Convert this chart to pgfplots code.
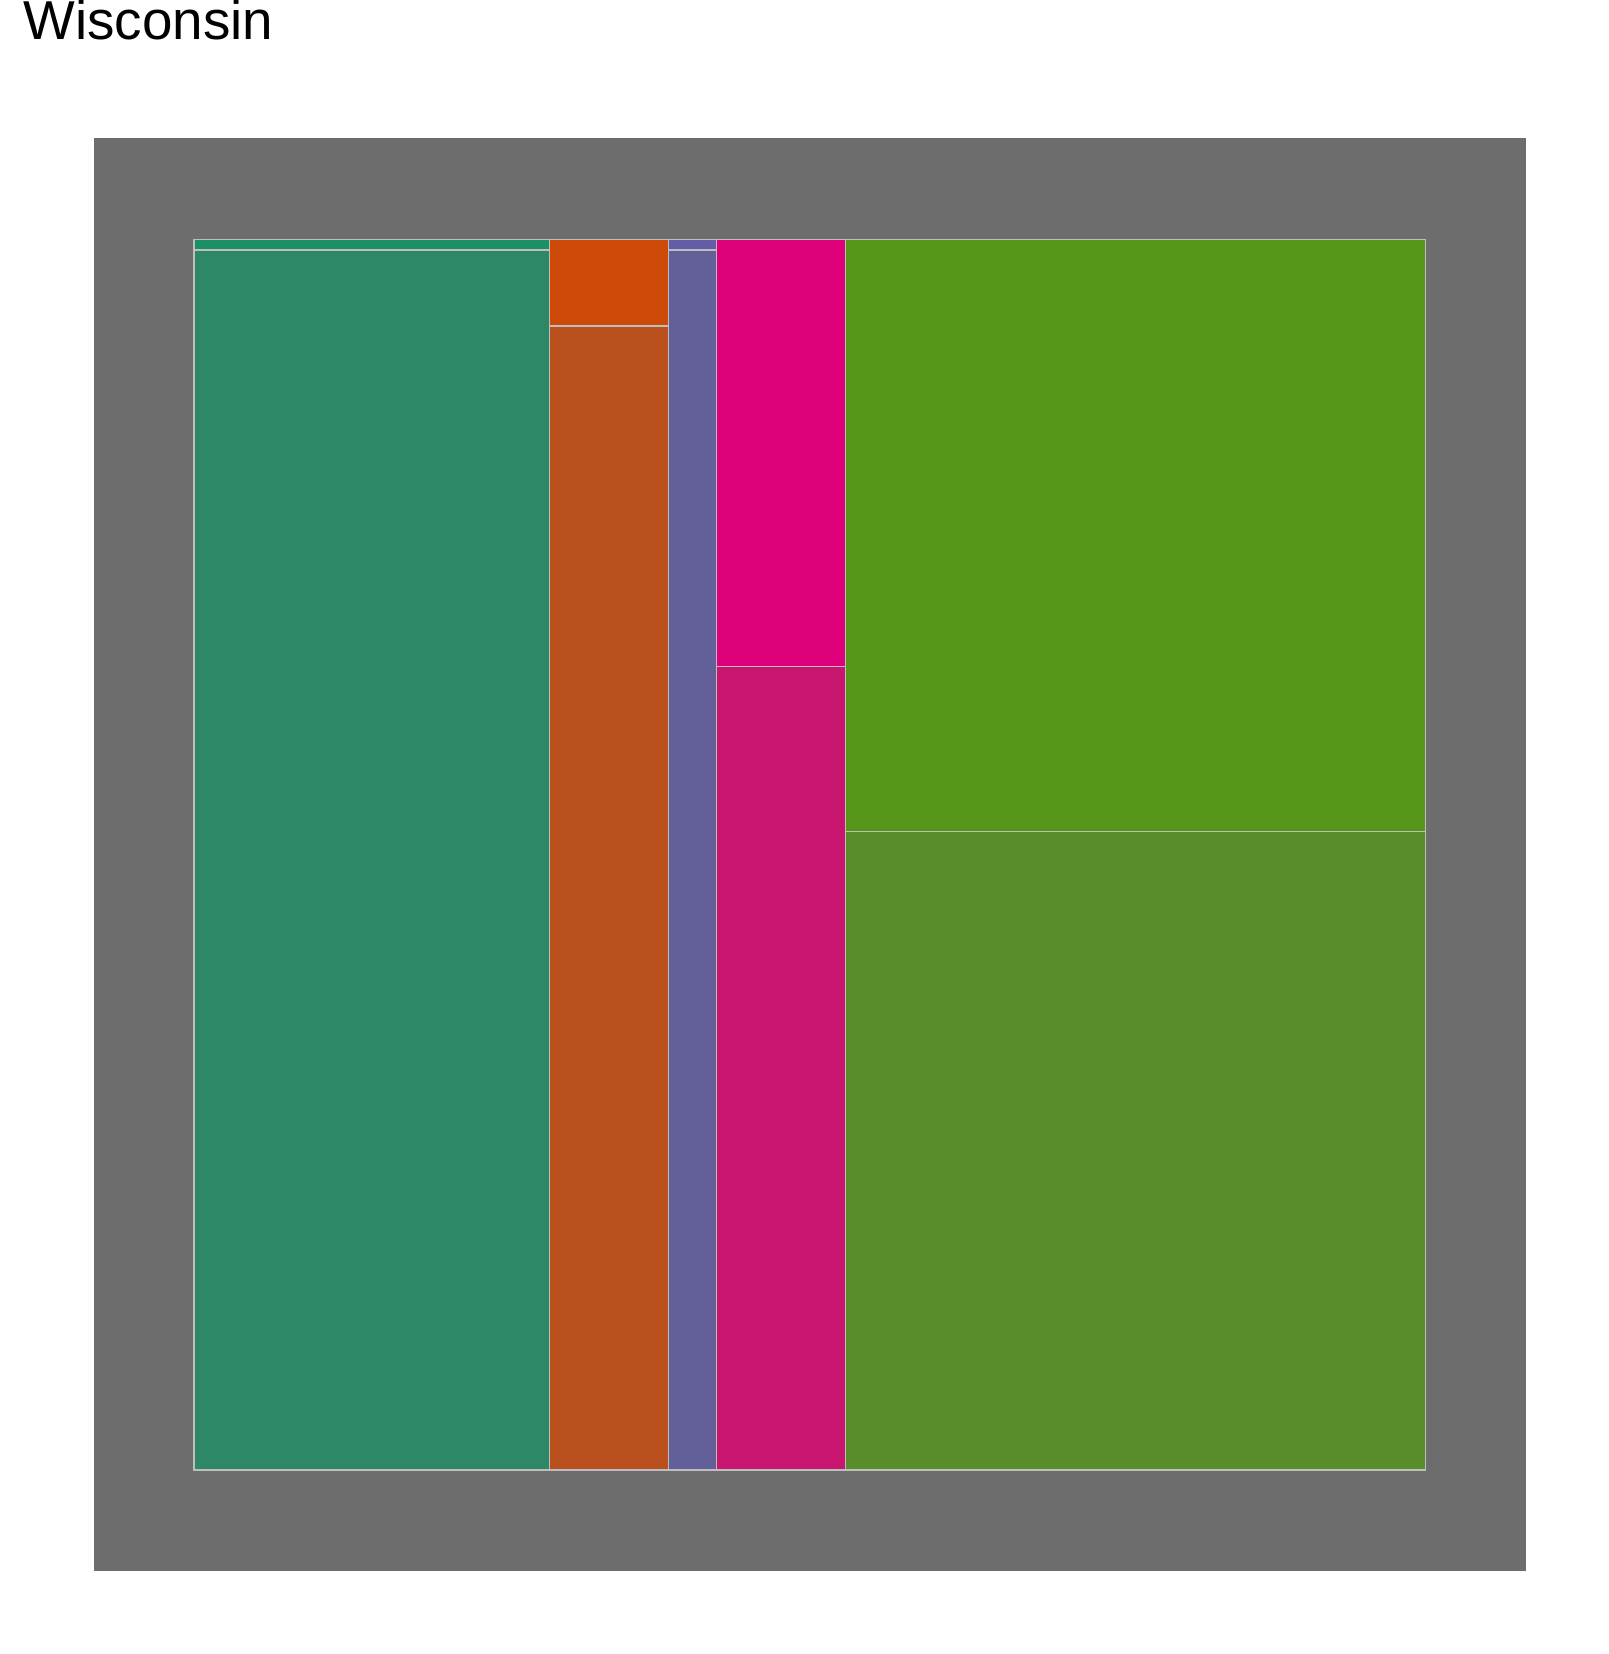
\documentclass[border=0pt]{standalone}
\usepackage{pgfplots}
\pgfplotsset{compat=1.18}
\usepackage{fontspec}
\setmainfont{Liberation Sans}
\definecolor{panelgray}{HTML}{6D6D6D}
\definecolor{edge}{HTML}{BEBEBE}
\definecolor{tealA}{HTML}{1D8F65}
\definecolor{tealB}{HTML}{2E8866}
\definecolor{orangeA}{HTML}{CD4A08}
\definecolor{orangeB}{HTML}{B9501E}
\definecolor{purpleA}{HTML}{645CA5}
\definecolor{purpleB}{HTML}{635F98}
\definecolor{pinkA}{HTML}{DD007A}
\definecolor{pinkB}{HTML}{C8156F}
\definecolor{greenA}{HTML}{569719}
\definecolor{greenB}{HTML}{598D2B}
\begin{document}
\begin{tikzpicture}
\path[use as bounding box] (-47pt,-41.5pt) rectangle (757pt,785.5pt);
\node[anchor=base west, font=\fontsize{27.4}{32}\selectfont, inner sep=0pt] at (-35.5pt,765.5pt) {Wisconsin};
\begin{axis}[
  at={(0,0)}, anchor=south west,
  scale only axis, width=716pt, height=716.5pt,
  xmin=-0.0812, xmax=1.0816, ymin=-0.0821, ymax=1.0825,
  axis line style={draw=none}, ticks=none,
  axis background/.style={fill=panelgray},
  every axis plot/.append style={draw=edge, line width=0.55pt},
]
% column 1
\addplot[fill=tealB] coordinates {(0,0) (0.2888,0) (0.2888,0.9915) (0,0.9915)} -- cycle;
\addplot[fill=tealA] coordinates {(0,0.9915) (0.2888,0.9915) (0.2888,1) (0,1)} -- cycle;
% column 2
\addplot[fill=orangeB] coordinates {(0.2888,0) (0.3855,0) (0.3855,0.9297) (0.2888,0.9297)} -- cycle;
\addplot[fill=orangeA] coordinates {(0.2888,0.9297) (0.3855,0.9297) (0.3855,1) (0.2888,1)} -- cycle;
% column 3
\addplot[fill=purpleB] coordinates {(0.3855,0) (0.4242,0) (0.4242,0.9915) (0.3855,0.9915)} -- cycle;
\addplot[fill=purpleA] coordinates {(0.3855,0.9915) (0.4242,0.9915) (0.4242,1) (0.3855,1)} -- cycle;
% column 4
\addplot[fill=pinkB] coordinates {(0.4242,0) (0.5288,0) (0.5288,0.6527) (0.4242,0.6527)} -- cycle;
\addplot[fill=pinkA] coordinates {(0.4242,0.6527) (0.5288,0.6527) (0.5288,1) (0.4242,1)} -- cycle;
% column 5
\addplot[fill=greenB] coordinates {(0.5288,0) (1,0) (1,0.519) (0.5288,0.519)} -- cycle;
\addplot[fill=greenA] coordinates {(0.5288,0.519) (1,0.519) (1,1) (0.5288,1)} -- cycle;
\end{axis}
\end{tikzpicture}
\end{document}
